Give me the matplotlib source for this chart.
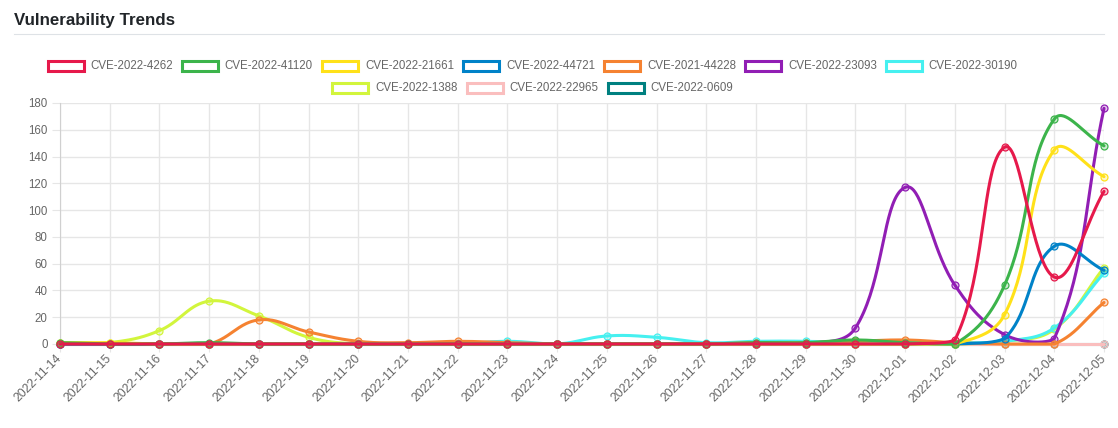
import numpy as np
import matplotlib.pyplot as plt
from matplotlib.patches import Rectangle
from matplotlib.transforms import Affine2D

# data
dates = ["2022-11-14", "2022-11-15", "2022-11-16", "2022-11-17", "2022-11-18",
         "2022-11-19", "2022-11-20", "2022-11-21", "2022-11-22", "2022-11-23",
         "2022-11-24", "2022-11-25", "2022-11-26", "2022-11-27", "2022-11-28",
         "2022-11-29", "2022-11-30", "2022-12-01", "2022-12-02", "2022-12-03",
         "2022-12-04", "2022-12-05"]

cve_names = ["CVE-2022-4262", "CVE-2022-41120", "CVE-2022-21661", "CVE-2022-44721",
             "CVE-2021-44228", "CVE-2022-23093", "CVE-2022-30190", "CVE-2022-1388",
             "CVE-2022-22965", "CVE-2022-0609"]

colors = ["#e6194b", "#3cb44b", "#ffe119", "#0082c8", "#f58231",
          "#911eb4", "#46f0f0", "#d2f53c", "#fabebe", "#008080"]

cve_2022_4262 = [0, 0, 0, 0, 0, 0, 0, 0, 0, 0, 0, 0, 0, 0, 0, 0, 0, 0, 3, 147, 50, 114]
cve_2022_41120 = [1, 0, 0, 1, 0, 0, 0, 0, 0, 0, 0, 0, 0, 0, 1, 1, 3, 1, 0, 44, 168, 148]
cve_2022_21661 = [1, 1, 0, 0, 0, 0, 0, 0, 0, 0, 0, 0, 0, 0, 0, 0, 0, 0, 0, 22, 145, 125]
cve_2022_44721 = [0, 0, 0, 0, 0, 0, 0, 0, 0, 0, 0, 0, 0, 0, 0, 0, 0, 0, 0, 4, 73, 55]
cve_2021_44228 = [0, 0, 0, 0, 18, 9, 2, 1, 2, 1, 0, 0, 0, 0, 1, 1, 2, 3, 1, 0, 0, 31]
cve_2022_23093 = [0, 0, 0, 0, 0, 0, 0, 0, 0, 0, 0, 0, 0, 0, 0, 0, 12, 117, 44, 7, 4, 176]
cve_2022_30190 = [0, 0, 0, 0, 0, 0, 0, 0, 0, 2, 0, 6, 5, 1, 2, 2, 1, 1, 1, 2, 12, 53]
cve_2022_1388 = [1, 1, 10, 32, 21, 5, 0, 0, 0, 0, 0, 0, 0, 0, 0, 0, 0, 0, 0, 2, 11, 57]
cve_2022_22965 = [0] * 22
cve_2022_0609 = [0] * 22

series = [cve_2022_4262, cve_2022_41120, cve_2022_21661, cve_2022_44721, cve_2021_44228,
          cve_2022_23093, cve_2022_30190, cve_2022_1388, cve_2022_22965, cve_2022_0609]

W, H = 1118, 428
plt.rcParams['font.family'] = ['Liberation Sans', 'DejaVu Sans']
fig = plt.figure(figsize=(W / 100, H / 100), dpi=100)
px = Affine2D().scale(1 / W, -1 / H).translate(0, 1) + fig.transFigure  # pixel coords, origin top-left

grid_c = "#e6e6e6"
text_c = "#666666"

ax = fig.add_axes([60 / W, 1 - 344 / H, 1044 / W, 241 / H])
x = np.arange(len(dates))
ax.set_xlim(0, len(dates) - 1)
ax.set_ylim(0, 180)
ax.set_xticks(x)
ax.set_xticklabels(dates, rotation=45, ha="right", va="center", rotation_mode="anchor")
ax.set_yticks(np.arange(0, 181, 20))
ax.grid(True, color=grid_c, linewidth=1)
ax.set_axisbelow(True)
for s in ["top", "right"]:
    ax.spines[s].set_visible(False)
ax.spines["left"].set_color("#d0d0d0")
ax.spines["bottom"].set_color("#c0c0c0")
ax.tick_params(axis="y", length=6, color=grid_c, labelcolor=text_c, labelsize=8.3, pad=3)
ax.tick_params(axis="x", length=5.5, color=grid_c, labelcolor=text_c, labelsize=8.7, pad=3.8)


def spline(xs, ys, tension=0.4):
    # chart.js style bezier curve computed in pixel space
    pts = ax.transData.transform(np.column_stack([xs, ys]))
    lo = ax.transData.transform([0, 0])
    hi = ax.transData.transform([len(dates) - 1, 180])
    n = len(pts)
    c_in = np.zeros_like(pts)
    c_out = np.zeros_like(pts)
    for i in range(n):
        prev = pts[i - 1] if i > 0 else pts[i]
        cur = pts[i]
        nxt = pts[i + 1] if i < n - 1 else pts[i]
        d01 = np.hypot(*(cur - prev))
        d12 = np.hypot(*(nxt - cur))
        tot = d01 + d12
        s01 = d01 / tot if tot else 0
        s12 = d12 / tot if tot else 0
        c_in[i] = cur - tension * s01 * (nxt - prev)
        c_out[i] = cur + tension * s12 * (nxt - prev)
    for c in (c_in, c_out):
        c[:, 0] = np.clip(c[:, 0], lo[0], hi[0])
        c[:, 1] = np.clip(c[:, 1], min(lo[1], hi[1]), max(lo[1], hi[1]))
    t = np.linspace(0, 1, 40)[:, None]
    segs = []
    for i in range(n - 1):
        p0, p1, p2, p3 = pts[i], c_out[i], c_in[i + 1], pts[i + 1]
        b = (1 - t) ** 3 * p0 + 3 * (1 - t) ** 2 * t * p1 + 3 * (1 - t) * t ** 2 * p2 + t ** 3 * p3
        segs.append(b if i == 0 else b[1:])
    curve = ax.transData.inverted().transform(np.vstack(segs))
    return curve[:, 0], curve[:, 1]


# first dataset drawn on top, like chart.js
for i, (vals, col) in enumerate(zip(series, colors)):
    cx, cy = spline(x, vals)
    z = 50 - 2 * i
    ax.plot(cx, cy, color=col, lw=2.2, zorder=z, clip_on=False, solid_capstyle="round")
    ax.plot(x, vals, ls="none", marker="o", ms=5, mew=0.9, mec=col,
            mfc=col + "40", zorder=z + 1, clip_on=False)

# title and separator
fig.text(14, 25, "Vulnerability Trends", transform=px, fontsize=12.2, fontweight="bold",
         color="#212529", va="baseline", ha="left")
fig.add_artist(plt.Line2D([14, 1104], [34, 34], transform=px, color="#dee2e6", lw=0.8))

# legend, two centered rows
rows = [list(range(0, 7)), list(range(7, 10))]
row_y = [66, 88]
renderer = fig.canvas.get_renderer()
center = 532
for row, yc in zip(rows, row_y):
    items = []
    for i in row:
        t = fig.text(0, yc, cve_names[i], transform=px, fontsize=8.3, color=text_c,
                     va="center", ha="left")
        w = t.get_window_extent(renderer).width
        items.append((i, t, w))
    total = sum(44 + w for _, _, w in items) + 8 * (len(items) - 1)
    xpos = center - total / 2
    for i, t, w in items:
        fig.add_artist(Rectangle((xpos + 1.5, yc - 5), 36, 10, transform=px, fill=False,
                                 edgecolor=colors[i], lw=2.2))
        t.set_x(xpos + 44)
        xpos += 44 + w + 8

fig.savefig("out.png", dpi=100)
